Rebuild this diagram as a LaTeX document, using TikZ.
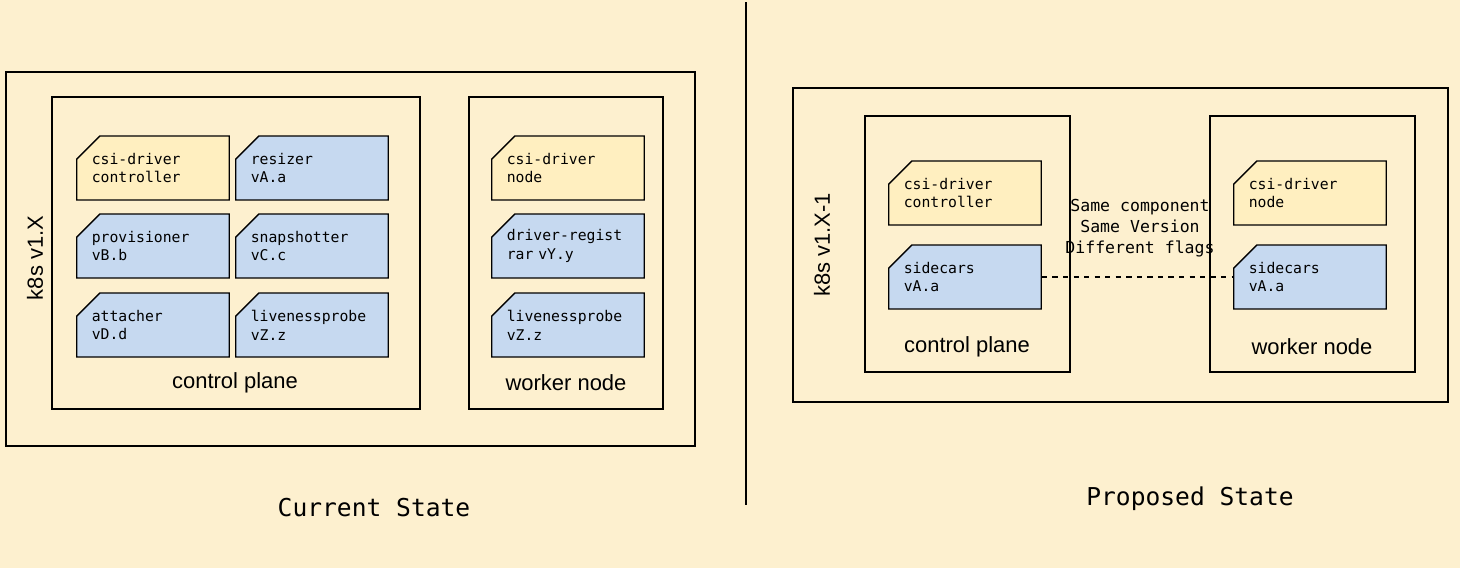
\documentclass[tikz,border=0pt]{standalone}
\usepackage{fontspec}
\setmainfont{Liberation Sans}
\setmonofont{DejaVu Sans Mono}
\usetikzlibrary{shapes.misc}

\definecolor{bgpaper}{HTML}{FDF0CF}
\definecolor{cardyellow}{HTML}{FFEFC0}
\definecolor{cardblue}{HTML}{C6D9F0}

\begin{document}
\begin{tikzpicture}[x=0.02cm,y=-0.02cm]
    \tikzstyle{box} = [draw, line width=0.8pt]
    \tikzstyle{card} = [draw, line width=0.8pt, chamfered rectangle,
        chamfered rectangle corners=north west,
        chamfered rectangle xsep=0.3cm, chamfered rectangle ysep=0.16cm,
        minimum width=2.56cm, minimum height=1.28cm, inner sep=0pt,
        text width=2.45cm, align=left,
        font=\ttfamily\fontsize{8.4}{10.8}\selectfont]
    \tikzstyle{yel} = [card, fill=cardyellow]
    \tikzstyle{blu} = [card, fill=cardblue]
    \tikzstyle{lbl} = [font=\fontsize{12.5}{14}\selectfont]
    \tikzstyle{state} = [font=\ttfamily\fontsize{14}{16}\selectfont]

    \fill[bgpaper] (0,0) rectangle (1460,568);
    \useasboundingbox (0,0) rectangle (1460,568);
    \draw[line width=0.8pt] (746,2) -- (746,505);

    % current state
    \draw[box] (6,72) rectangle (695,446);
    \node[lbl, rotate=90] (k8sA) at (35,258) {k8s v1.X};
    \draw[box] (52,97) rectangle (420,409);
    \draw[box] (469,97) rectangle (663,409);
    \node[lbl] (cpA) at (235,383) {control plane};
    \node[lbl] (wnA) at (566,383) {worker node};

    \node[yel] (ctrlA) at (153,168) {csi-driver\\controller};
    \node[blu] (resz) at (312,168) {resizer\\vA.a};
    \node[blu] (prov) at (153,246) {provisioner\\vB.b};
    \node[blu] (snap) at (312,246) {snapshotter\\vC.c};
    \node[blu] (atch) at (153,325) {attacher\\vD.d};
    \node[blu] (lpA) at (312,325) {livenessprobe\\vZ.z};
    \node[yel] (nodeA) at (568,168) {csi-driver\\node};
    \node[blu] (reg) at (568,246) {driver-regist\\rar vY.y};
    \node[blu] (lpB) at (568,325) {livenessprobe\\vZ.z};

    \node[state] (cur) at (374,508) {Current State};

    % proposed state
    \draw[box] (793,88) rectangle (1448,402);
    \node[lbl, rotate=90] (k8sB) at (822,245) {k8s v1.X-1};
    \draw[box] (865,116) rectangle (1070,372);
    \draw[box] (1210,116) rectangle (1415,372);
    \node[lbl] (cpB) at (967,347) {control plane};
    \node[lbl] (wnB) at (1312,347) {worker node};

    \node[yel] (ctrlB) at (965,193) {csi-driver\\controller};
    \node[blu] (sideA) at (965,277) {sidecars\\vA.a};
    \node[yel] (nodeB) at (1310,193) {csi-driver\\node};
    \node[blu] (sideB) at (1310,277) {sidecars\\vA.a};

    \draw[dashed, line width=0.6pt] (sideA.east) -- (sideB.west);
    \node[font=\ttfamily\fontsize{9.4}{12}\selectfont, align=center] (same) at (1140,228)
        {Same component\\Same Version\\Different flags};

    \node[state] (prop) at (1190,499) {Proposed State};
\end{tikzpicture}
\end{document}
